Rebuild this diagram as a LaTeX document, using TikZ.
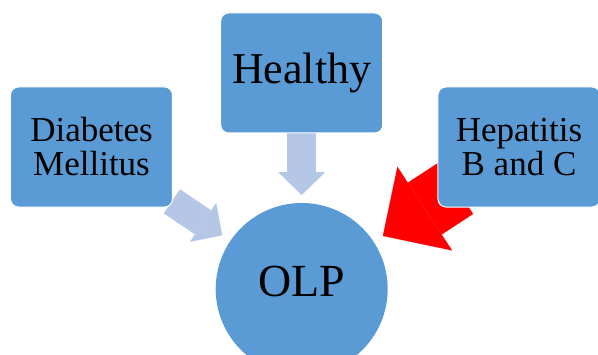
\documentclass[tikz,border=0pt]{standalone}
\usepackage{fontspec}
\setmainfont{Liberation Serif}
\usetikzlibrary{arrows.meta,positioning,backgrounds}
\definecolor{boxblue}{HTML}{5B9BD5}
\definecolor{paleblue}{HTML}{B4C7E7}
\tikzset{%
            base/.style = {rectangle, rounded corners=8pt, draw=white, line width=1pt,
                           fill=boxblue, minimum width=162pt, minimum height=120pt,
                           text centered, align=center},
  box1/.style = {base, font=\fontsize{35}{34}\selectfont},
  box2/.style = {base, font=\fontsize{44}{44}\selectfont},
  circ/.style = {circle, fill=boxblue, minimum size=172pt, font=\fontsize{46}{46}\selectfont,
                 text height=30pt, text depth=15pt},
  pale/.style  = {color=paleblue, line width=29pt,
                  -{Triangle[length=23pt, width=47pt, line width=0.1pt]}},
  alarm/.style = {color=red, line width=62pt,
                  -{Triangle[length=50pt, width=100pt, line width=0.1pt]}},
}

\begin{document}
\begin{tikzpicture}[x=1pt, y=1pt, node distance=216pt]
  \clip (-301.7,-65) rectangle (296.3,289);
  \useasboundingbox (-301.7,-65) rectangle (296.3,289);

  \node (olp)     [circ]                                              {OLP};
  \node (healthy) [box2, above of=olp]                                {Healthy};
  \node (dia)     [box1, left of=olp,  xshift=5.8pt, yshift=142pt]    {Diabetes\\Mellitus};
  \node (hep)     [box1, right of=olp, xshift=1.3pt, yshift=142pt]    {Hepatitis\\B and C};

  \begin{scope}[on background layer]
    \draw[pale,  shorten <=58pt, shorten >=94pt] (healthy.center) -- (olp.center);
    \draw[pale,  shorten <=97pt, shorten >=96pt] (dia.center)     -- (olp.center);
    \draw[alarm, shorten <=75pt, shorten >=97pt] (hep.center)     -- (olp.center);
  \end{scope}
\end{tikzpicture}
\end{document}
